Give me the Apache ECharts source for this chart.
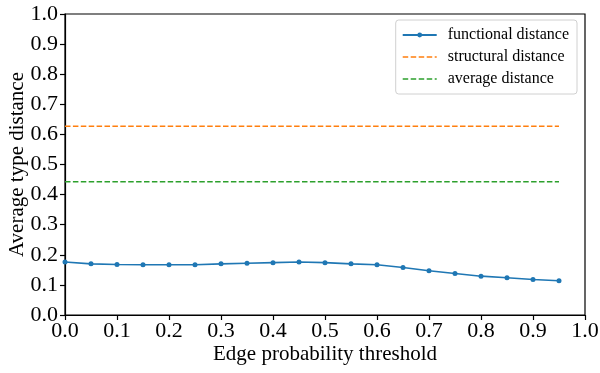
<!DOCTYPE html>
<html>
<head>
<meta charset="utf-8">
<script src="https://cdn.jsdelivr.net/npm/echarts@6/dist/echarts.min.js"></script>
<style>html,body{margin:0;padding:0;background:#fff}#c{width:600px;height:373px}</style>
</head>
<body>
<div id="c"></div>
<script>
const thresholds = [0, 0.05, 0.1, 0.15, 0.2, 0.25, 0.3, 0.35, 0.4, 0.45, 0.5, 0.55, 0.6, 0.65, 0.7, 0.75, 0.8, 0.85, 0.9, 0.95];
const functionalDistance = [0.176, 0.170, 0.168, 0.167, 0.167, 0.167, 0.170, 0.172, 0.174, 0.176, 0.174, 0.170, 0.167, 0.158, 0.147, 0.138, 0.129, 0.124, 0.118, 0.114];
const structuralDistance = 0.627;
const averageDistance = 0.443;
const xTickLabels = ['0.0','0.1','0.2','0.3','0.4','0.5','0.6','0.7','0.8','0.9','1.0'];
const yTickLabels = ['0.0','0.1','0.2','0.3','0.4','0.5','0.6','0.7','0.8','0.9','1.0'];

const font = 'Liberation Serif';
const dashIcon = 'path://M0,0H5.5V1.5H0Z M8,0H13.5V1.5H8Z M16,0H21.5V1.5H16Z M24,0H29.5V1.5H24Z M32,0H34V1.5H32Z';
const chart = echarts.init(document.getElementById('c'), null, {renderer: 'canvas'});
const xStart = thresholds[0], xEnd = thresholds[thresholds.length - 1];
chart.setOption({
  animation: false,
  backgroundColor: '#fff',
  grid: {left: 65, right: 15, top: 14, bottom: 58, show: true, borderColor: '#000', borderWidth: 1.2,
    backgroundColor: 'transparent', containLabel: false, outerBoundsMode: 'none'},
  legend: {
    right: 23, top: 20, orient: 'vertical', itemGap: 6, itemWidth: 34, itemHeight: 6,
    padding: [7, 8, 7, 6], symbolKeepAspect: true,
    borderColor: '#d0d0d0', borderWidth: 1, borderRadius: 3, backgroundColor: '#fff',
    textStyle: {fontFamily: font, fontSize: 16, color: '#000', padding: [0, 0, 0, 6]},
    data: [
      {name: 'functional distance'},
      {name: 'structural distance', icon: dashIcon, itemStyle: {color: '#ff7f0e'}},
      {name: 'average distance', icon: dashIcon, itemStyle: {color: '#2ca02c'}}
    ]
  },
  xAxis: {
    type: 'value', min: 0, max: 1, interval: 0.1,
    name: 'Edge probability threshold', nameLocation: 'middle', nameGap: 29, nameMoveOverlap: false,
    nameTextStyle: {fontFamily: font, fontSize: 21, color: '#000'},
    axisLine: {show: true, lineStyle: {color: '#000', width: 1.2}},
    axisTick: {show: true, inside: false, length: 5, lineStyle: {color: '#000', width: 1.2}},
    axisLabel: {inside: false, fontFamily: font, fontSize: 22, color: '#000', margin: 5,
      formatter: v => xTickLabels[Math.round(v * 10)]},
    splitLine: {show: false}
  },
  yAxis: {
    type: 'value', min: 0, max: 1, interval: 0.1,
    name: 'Average type distance', nameLocation: 'middle', nameGap: 37, nameMoveOverlap: false,
    nameTextStyle: {fontFamily: font, fontSize: 21, color: '#000'},
    axisLine: {show: true, lineStyle: {color: '#000', width: 1.2}},
    axisTick: {show: true, inside: false, length: 5, lineStyle: {color: '#000', width: 1.2}},
    axisLabel: {inside: false, fontFamily: font, fontSize: 22, color: '#000', margin: 7,
      formatter: v => yTickLabels[Math.round(v * 10)]},
    splitLine: {show: false}
  },
  series: [
    {
      name: 'functional distance', type: 'line',
      data: thresholds.map((t, i) => [t, functionalDistance[i]]),
      color: '#1f77b4',
      lineStyle: {width: 1.6, color: '#1f77b4'},
      symbol: 'circle', symbolSize: 5, showSymbol: true,
      itemStyle: {color: '#1f77b4'}
    },
    {
      name: 'structural distance', type: 'line',
      data: [[xStart, structuralDistance], [xEnd, structuralDistance]],
      color: '#ff7f0e', symbol: 'none',
      lineStyle: {width: 1.5, color: '#ff7f0e', type: [5.5, 2.4]}
    },
    {
      name: 'average distance', type: 'line',
      data: [[xStart, averageDistance], [xEnd, averageDistance]],
      color: '#2ca02c', symbol: 'none',
      lineStyle: {width: 1.5, color: '#2ca02c', type: [5.5, 2.4]}
    }
  ]
});
</script>
</body>
</html>
